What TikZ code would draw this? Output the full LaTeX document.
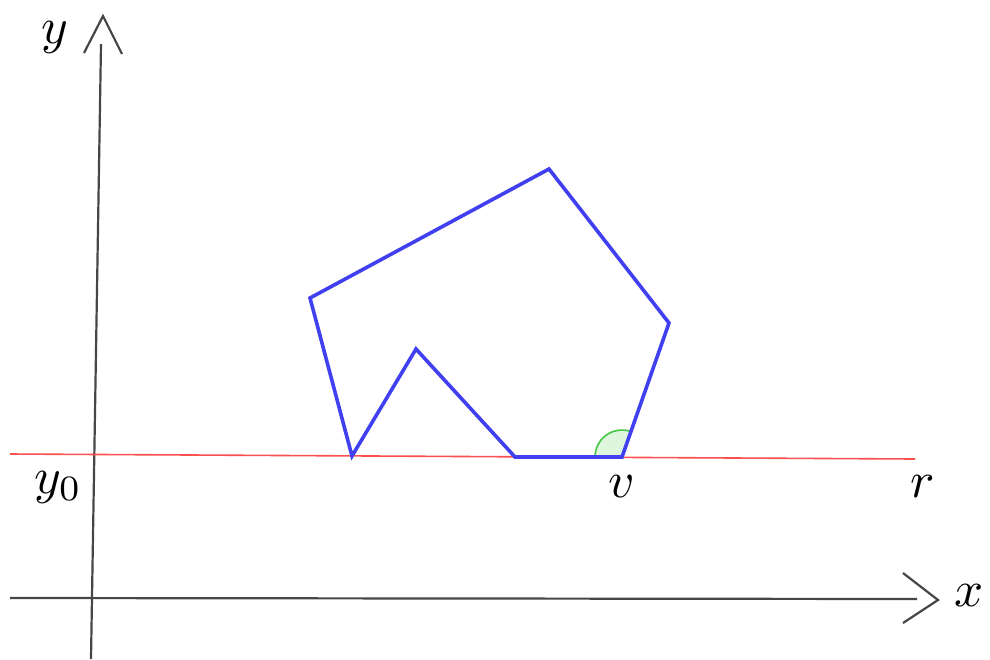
\documentclass[tikz,border=0pt]{standalone}
\usepackage{graphicx}
\definecolor{axisgray}{RGB}{70,70,70}
\definecolor{polyblue}{RGB}{64,64,240}
\definecolor{refred}{RGB}{250,80,80}
\definecolor{anglefill}{RGB}{222,245,222}
\definecolor{anglegreen}{RGB}{70,200,70}
\newcommand{\biglbl}[1]{\scalebox{5.1}{#1}}
\begin{document}
\begin{tikzpicture}[x=1pt,y=-1pt,
  axisline/.style={draw=axisgray,line width=2.2pt},
  polyline/.style={draw=polyblue,line width=3.6pt,line join=miter},
  refline/.style={draw=refred,line width=1.6pt},
  lbl/.style={inner sep=0pt}]
\useasboundingbox (0,0) rectangle (990,659);
% axes
\coordinate (ybot) at (91,659);
\coordinate (ytop) at (101,44);
\coordinate (yapex) at (103,16);
\coordinate (yl) at (84,53);
\coordinate (yr) at (122,54);
\coordinate (xleft) at (10,598);
\coordinate (xright) at (917,599);
\coordinate (xapex) at (938,600);
\coordinate (xu) at (903,573);
\coordinate (xd) at (903,623);
\draw[axisline] (ybot) -- (ytop);
\draw[axisline] (yl) -- (yapex) -- (yr);
\draw[axisline] (xleft) -- (xright);
\draw[axisline] (xu) -- (xapex) -- (xd);
% reference line r
\coordinate (rl) at (10,454);
\coordinate (rr) at (915,459);
\draw[refline] (rl) -- (rr);
% polygon
\coordinate (p1) at (310,298);
\coordinate (p2) at (549,169);
\coordinate (p3) at (669,323);
\coordinate (v) at (622,457);
\coordinate (p5) at (515,457);
\coordinate (p6) at (416,349);
\coordinate (p7) at (352,456);
% angle at v
\fill[anglefill] (v) -- ++(180:27) arc[start angle=180,end angle=70.7,x radius=27,y radius=-27] -- cycle;
\draw[anglegreen,line width=1.6pt] (v) ++(180:27) arc[start angle=180,end angle=70.7,x radius=27,y radius=-27];
\draw[polyline] (p1) -- (p2) -- (p3) -- (v) -- (p5) -- (p6) -- (p7) -- cycle;
% labels
\node[lbl] (ylab) at (55,37) {\biglbl{$y$}};
\node[lbl] (y0lab) at (58,487) {\biglbl{$y_0$}};
\node[lbl] (vlab) at (622,487) {\biglbl{$v$}};
\node[lbl] (rlab) at (923,487) {\biglbl{$r$}};
\node[lbl] (xlab) at (969,596) {\biglbl{$x$}};
\end{tikzpicture}
\end{document}
